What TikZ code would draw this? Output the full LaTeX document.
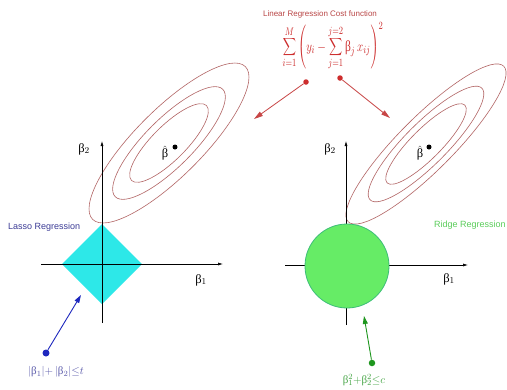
\documentclass[tikz,border=0pt]{standalone}
\usepackage{graphicx}
\usepackage{fontspec}
\setmainfont{Liberation Serif}
\newfontfamily\sansf{Liberation Sans}
\usetikzlibrary{arrows.meta}
\definecolor{ell}{RGB}{178,100,100}
\definecolor{cred}{RGB}{205,45,45}
\definecolor{tred}{RGB}{185,70,70}
\definecolor{arred}{RGB}{200,70,70}
\definecolor{dia}{RGB}{45,232,232}
\definecolor{circfill}{RGB}{102,236,102}
\definecolor{circline}{RGB}{60,190,120}
\definecolor{dblue}{RGB}{30,40,190}
\definecolor{lassoc}{RGB}{60,60,150}
\definecolor{lblue}{RGB}{90,90,170}
\definecolor{dgreen}{RGB}{30,150,30}
\definecolor{rgreen}{RGB}{90,205,90}
\definecolor{lgreen}{RGB}{70,165,70}
\tikzset{
  ellipseline/.style={draw=ell, line width=0.6pt},
  axisline/.style={draw=black, line width=0.6pt, -{Latex[length=5pt,width=3pt]}},
  reddot/.style={circle, fill=cred, inner sep=0pt, minimum size=5.5pt},
  bluedot/.style={circle, fill=dblue, inner sep=0pt, minimum size=7pt},
  greendot/.style={circle, fill=dgreen, inner sep=0pt, minimum size=6.5pt},
  blackdot/.style={circle, fill=black, inner sep=0pt, minimum size=5pt},
  redarrow/.style={draw=arred, line width=0.8pt, -{Triangle[length=9pt,width=5pt]}},
  bluearrow/.style={draw=dblue, line width=0.9pt, -{Triangle[length=8pt,width=5pt]}},
  greenarrow/.style={draw=dgreen, line width=0.9pt, -{Triangle[length=8pt,width=5pt]}},
  betalabel/.style={font=\fontsize{12.5}{14}\selectfont, inner sep=0pt},
  regname/.style={font=\sansf\fontsize{9}{11}\selectfont, inner sep=0pt, anchor=west},
}
\begin{document}
\begin{tikzpicture}[x=1pt,y=-1pt]
\useasboundingbox (0,0) rectangle (507,389);
\fill[white] (0,0) rectangle (507,389);

% title and cost formula
\node[font=\sansf\fontsize{8}{10}\selectfont, text=tred, inner sep=0pt] (title) at (320,14) {Linear Regression Cost function};
\node[text=cred, font=\fontsize{12.5}{14}\selectfont, inner sep=0pt] (cost) at (333,46)
  {\scalebox{0.92}[1.22]{$\displaystyle\sum_{i=1}^{M}\left(y_i-\sum_{j=1}^{j=2}\mbox{β}_j\, x_{ij}\right)^{2}$}};
\node[reddot] (redL) at (306,82) {};
\node[reddot] (redR) at (340,78) {};
\coordinate (tipL) at (254,119);
\coordinate (tipR) at (390,118);
\draw[redarrow] (redL) -- (tipL);
\draw[redarrow] (redR) -- (tipR);

% left ellipses
\begin{scope}[shift={(169,143)},rotate=45]
  \draw[ellipseline] (0,0) ellipse [x radius=108, y radius=33.5];
  \draw[ellipseline] (0,0) ellipse [x radius=76, y radius=24];
  \draw[ellipseline] (0,0) ellipse [x radius=53, y radius=17];
\end{scope}
% right ellipses
\begin{scope}[shift={(426,144)},rotate=45]
  \draw[ellipseline] (0,0) ellipse [x radius=110, y radius=27];
  \draw[ellipseline] (0,0) ellipse [x radius=79, y radius=21];
  \draw[ellipseline] (0,0) ellipse [x radius=55, y radius=15];
\end{scope}

% left: lasso
\fill[dia] (102,224) -- (142,264) -- (102,304) -- (62,264) -- cycle;
\coordinate (LvB) at (102,323);
\coordinate (LvT) at (102,141);
\coordinate (LhL) at (41,264);
\coordinate (LhR) at (223,264);
\draw[axisline] (LvB) -- (LvT);
\draw[axisline] (LhL) -- (LhR);
\node[betalabel] (Lb2) at (84,149) {β$_2$};
\node[betalabel] (Lb1) at (201,280) {β$_1$};
\node[blackdot] (Ldot) at (175,147) {};
\node[betalabel] (Lhat) at (165,153) {$\hat{\mbox{β}}$};
\node[regname, text=lassoc] (lasso) at (8,227) {Lasso Regression};
\node[bluedot] (bdot) at (46,353) {};
\coordinate (btip) at (81,295);
\draw[bluearrow] (bdot) -- (btip);
\node[text=lblue, font=\fontsize{11}{13}\selectfont, inner sep=0pt] (lassoeq) at (56,372) {$|$β$_1|{+}\,|$β$_2|{\le}t$};

% right: ridge
\coordinate (RvB) at (346,325);
\coordinate (RvT) at (346,141);
\coordinate (RhL) at (285,265);
\coordinate (RhR) at (468,265);
\draw[axisline] (RvB) -- (RvT);
\draw[axisline] (RhL) -- (RhR);
\draw[fill=circfill, draw=circline, line width=0.8pt] (347,266) circle [radius=42];
\node[betalabel] (Rb2) at (330,149) {β$_2$};
\node[betalabel] (Rb1) at (449,279) {β$_1$};
\node[blackdot] (Rdot) at (429,147) {};
\node[betalabel] (Rhat) at (420,153) {$\hat{\mbox{β}}$};
\node[regname, text=rgreen] (ridge) at (434,225) {Ridge Regression};
\node[greendot] (gdot) at (372,363) {};
\coordinate (gtip) at (364,316);
\draw[greenarrow] (gdot) -- (gtip);
\node[text=lgreen, font=\fontsize{11}{13}\selectfont, inner sep=0pt] (ridgeeq) at (364,380) {β$_1^2{+}$β$_2^2{\le}c$};
\end{tikzpicture}
\end{document}
